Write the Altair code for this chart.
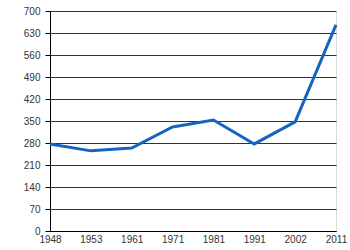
import altair as alt
import pandas as pd

years = ["1948", "1953", "1961", "1971", "1981", "1991", "2002", "2011"]
values = [277, 255, 264, 331, 353, 277, 347, 656]
y_ticks = [0, 70, 140, 210, 280, 350, 420, 490, 560, 630, 700]

df = pd.DataFrame({"year": years, "value": values})

chart = alt.Chart(df).mark_line(color="#1565c0", strokeWidth=3).encode(
    x=alt.X("year:N", sort=years, scale=alt.Scale(type="point", padding=0),
            axis=alt.Axis(title=None, labelAngle=0, grid=False, ticks=False,
                          domainColor="#000000", labelColor="#333333",
                          labelFont="Liberation Sans", labelFontSize=10, labelPadding=3)),
    y=alt.Y("value:Q", scale=alt.Scale(domain=[0, 700], nice=False),
            axis=alt.Axis(title=None, values=y_ticks, grid=True, gridColor="#333333",
                          gridOpacity=1, gridWidth=1, tickColor="#000000", tickSize=5,
                          domainColor="#000000", labelColor="#333333",
                          labelFont="Liberation Sans", labelFontSize=10, labelPadding=5)),
).properties(
    width=286, height=220,
    autosize=alt.AutoSizeParams(type="none"),
    padding={"left": 50, "top": 11, "right": 14, "bottom": 19},
).configure_view(stroke=None).configure(background="white")

chart.save("out.html", embed_options={"renderer": "svg", "actions": False})
